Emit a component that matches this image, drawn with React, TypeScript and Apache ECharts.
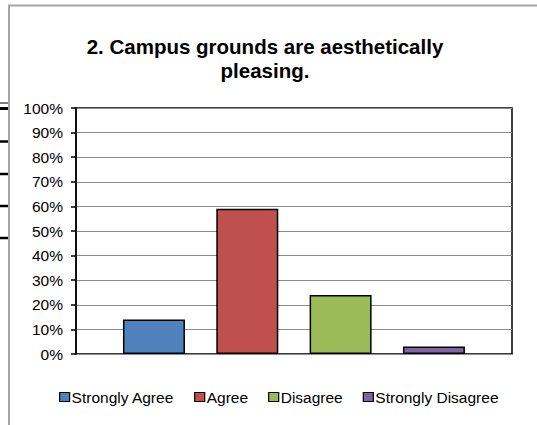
import React, { useEffect, useRef } from "react";
import * as echarts from "echarts";

const titleLines = ["2. Campus grounds are aesthetically", "pleasing."];
const categories = ["Strongly Agree", "Agree", "Disagree", "Strongly Disagree"];
const values = [0.14, 0.59, 0.24, 0.03];
const colors = ["#4F81BD", "#C0504D", "#9BBB59", "#8064A2"];
const yTicks = [0, 0.1, 0.2, 0.3, 0.4, 0.5, 0.6, 0.7, 0.8, 0.9, 1.0];
const leftMarks = [103, 108.5, 141.5, 174, 206, 238];
const leftMarkWidths = [1, 3, 2.5, 2.5, 2.5, 2.5];

const FONT = '"Liberation Sans", Arial, sans-serif';

export default function App() {
  const ref = useRef<HTMLDivElement>(null);
  useEffect(() => {
    if (!ref.current) return;
    const chart = echarts.init(ref.current, undefined, { renderer: "svg" });
    const series = categories.map((name, i) => ({
      name,
      type: "bar",
      xAxisIndex: 1,
      yAxisIndex: 1,
      stack: "all",
      barWidth: 62,
      itemStyle: { color: colors[i], borderColor: "#000", borderWidth: 1.5 },
      data: categories.map((_, j) => (j === i ? values[i] : "-")),
    }));
    chart.setOption({
      animation: false,
      backgroundColor: "#fff",
      textStyle: { fontFamily: FONT },
      color: colors,
      grid: [
        { left: 76, top: 108, width: 436, height: 246, show: true, borderColor: "#000", borderWidth: 1.5, backgroundColor: "transparent" },
        { left: 107.3, top: 108, width: 373.3, height: 246 },
      ],
      xAxis: [
        { type: "value", gridIndex: 0, show: false, min: 0, max: 1 },
        { type: "category", gridIndex: 1, show: false, data: categories },
      ],
      yAxis: [
        {
          type: "value",
          gridIndex: 0,
          min: yTicks[0],
          max: yTicks[yTicks.length - 1],
          interval: 0.1,
          axisLine: { show: true, lineStyle: { color: "#000", width: 1.5 } },
          axisTick: { show: true, length: 5, lineStyle: { color: "#000", width: 1.5 } },
          axisLabel: {
            margin: 13,
            color: "#000",
            fontSize: 15.5,
            fontFamily: FONT,
            formatter: (v: number) => Math.round(v * 100) + "%",
          },
          splitLine: { show: true, lineStyle: { color: "#8c8c8c", width: 1 } },
        },
        { type: "value", gridIndex: 1, show: false, min: 0, max: 1 },
      ],
      legend: {
        data: categories,
        left: 54,
        top: 384,
        icon: "rect",
        itemWidth: 10,
        itemHeight: 9,
        itemGap: 20,
        itemStyle: { borderColor: "#000", borderWidth: 1.2 },
        textStyle: { color: "#000", fontSize: 15.5, fontFamily: FONT, padding: [0, 0, 0, -3] },
      },
      graphic: [
        {
          type: "rect",
          shape: { x: 9, y: 5.5, width: 700, height: 600 },
          style: { fill: "none", stroke: "#a6a6a6", lineWidth: 2 },
          z: -1,
        },
        ...leftMarks.map((y, i) => ({
          type: "line",
          shape: { x1: 0, y1: y, x2: 8, y2: y },
          style: { stroke: "#000", lineWidth: leftMarkWidths[i] },
        })),
        {
          type: "text",
          x: 265,
          y: 34,
          style: {
            text: titleLines.join("\n"),
            textAlign: "center",
            textVerticalAlign: "top",
            font: `bold 20.5px ${FONT}`,
            lineHeight: 24,
            fill: "#000",
          },
        },
      ],
      series,
    });
    return () => chart.dispose();
  }, []);
  return (
    <div
      ref={ref}
      style={{ position: "fixed", left: 0, top: 0, width: 537, height: 425, background: "#fff" }}
    />
  );
}
